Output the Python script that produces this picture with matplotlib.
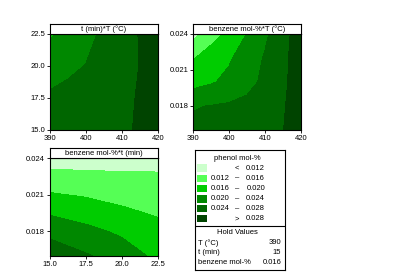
import matplotlib
matplotlib.use("Agg")
import matplotlib.pyplot as plt
import numpy as np
from matplotlib.patches import Rectangle

plt.rcParams['font.family'] = ['Liberation Sans', 'DejaVu Sans']
plt.rcParams['font.size'] = 5.5

# contour levels and colours (phenol mol-%)
levels = [0.0, 0.012, 0.016, 0.020, 0.024, 0.028, 0.1]
colors = ['#ccffcc', '#55ff55', '#00cc00', '#008800', '#006600', '#004400']
legend_lo = ['', '0.012', '0.016', '0.020', '0.024', '']
legend_hi = ['0.012', '0.016', '0.020', '0.024', '0.028', '0.028']
legend_sign = ['<', '–', '–', '–', '–', '>']

hold_names = ['T (°C)', 't (min)', 'benzene mol-%']
hold_vals = ['390', '15', '0.016']

# panel 1: t (min) vs T (°C)
T_grid = [390, 395, 400, 405, 410, 415, 420]
t_grid = [15, 17.5, 20, 22.5]
z_tT = [
    [0.0250, 0.0255, 0.0260, 0.0266, 0.0273, 0.0285, 0.0300],
    [0.0245, 0.0250, 0.0256, 0.0263, 0.0272, 0.0283, 0.0298],
    [0.0225, 0.0233, 0.0241, 0.0252, 0.0266, 0.0281, 0.0296],
    [0.0195, 0.0211, 0.0229, 0.0247, 0.0264, 0.0282, 0.0298],
]

# panel 2: benzene mol-% vs T (°C)
b_grid = [0.016, 0.018, 0.020, 0.022, 0.024]
z_bT = [
    [0.0247, 0.0250, 0.0254, 0.0260, 0.0268, 0.0279, 0.0300],
    [0.0238, 0.0241, 0.0245, 0.0250, 0.0259, 0.0276, 0.0302],
    [0.0185, 0.0196, 0.0210, 0.0228, 0.0248, 0.0272, 0.0301],
    [0.0158, 0.0174, 0.0195, 0.0220, 0.0243, 0.0270, 0.0301],
    [0.0105, 0.0148, 0.0167, 0.0201, 0.0233, 0.0266, 0.0300],
]

# panel 3: benzene mol-% vs t (min)
t3_grid = [15, 17.5, 20, 22.5]
z_bt = [
    [0.0265, 0.0244, 0.0222, 0.0190],
    [0.0229, 0.0211, 0.0193, 0.0171],
    [0.0185, 0.0174, 0.0161, 0.0152],
    [0.0143, 0.0139, 0.0135, 0.0133],
    [0.0101, 0.0101, 0.0102, 0.0103],
]

fig = plt.figure(figsize=(4.2, 2.8), dpi=100)


def panel(rect, x, y, z, title, xticks, yticks, xfmt, yfmt):
    ax = fig.add_axes(rect)
    ax.contourf(x, y, np.array(z), levels=levels, colors=colors)
    ax.set_xlim(x[0], x[-1])
    ax.set_ylim(y[0], y[-1])
    ax.set_xticks(xticks)
    ax.set_yticks(yticks)
    ax.set_xticklabels([xfmt % v for v in xticks])
    ax.set_yticklabels([yfmt % v for v in yticks])
    ax.tick_params(length=2, width=0.6, pad=1.5, labelsize=5.5)
    for s in ax.spines.values():
        s.set_linewidth(0.8)
    # title box above the plot
    tb = fig.add_axes([rect[0], rect[1] + rect[3], rect[2], 0.036])
    tb.set_xticks([])
    tb.set_yticks([])
    for s in tb.spines.values():
        s.set_linewidth(0.8)
    tb.text(0.5, 0.45, title, ha='center', va='center', fontsize=5.5)
    return ax


panel([0.119, 0.536, 0.257, 0.343], T_grid, t_grid, z_tT,
      't (min)*T (°C)', [390, 400, 410, 420], [15, 17.5, 20, 22.5], '%d', '%.1f')
panel([0.460, 0.536, 0.256, 0.343], T_grid, b_grid, z_bT,
      'benzene mol-%*T (°C)', [390, 400, 410, 420], [0.018, 0.021, 0.024], '%d', '%.3f')
panel([0.119, 0.086, 0.257, 0.349], t3_grid, b_grid, z_bt,
      'benzene mol-%*t (min)', [15, 17.5, 20, 22.5], [0.018, 0.021, 0.024], '%.1f', '%.3f')

# legend box, drawn in pixel-ish figure coords
lg = fig.add_axes([0.464, 0.036, 0.215, 0.428])
lg.set_xlim(195, 285)
lg.set_ylim(270, 150)
lg.set_xticks([])
lg.set_yticks([])
for s in lg.spines.values():
    s.set_linewidth(0.8)
lg.axhline(226, color='black', linewidth=0.8)
lg.text(237, 158, 'phenol mol-%', ha='center', va='center')
rows_y = [168, 178.2, 188.3, 198.8, 208.8, 218.6]
for i, yy in enumerate(rows_y):
    lg.add_patch(Rectangle((197.3, yy - 3.7), 10, 7.4, facecolor=colors[i], edgecolor='none'))
    lg.text(230, yy, legend_lo[i], ha='right', va='center')
    lg.text(237, yy, legend_sign[i], ha='center', va='center')
    lg.text(265, yy, legend_hi[i], ha='right', va='center')
lg.text(237, 233, 'Hold Values', ha='center', va='center')
for i, (n, v) in enumerate(zip(hold_names, hold_vals)):
    yy = 243 + i * 10
    lg.text(198.5, yy, n, ha='left', va='center')
    lg.text(281, yy, v, ha='right', va='center')

fig.savefig('out.png', dpi=100)
